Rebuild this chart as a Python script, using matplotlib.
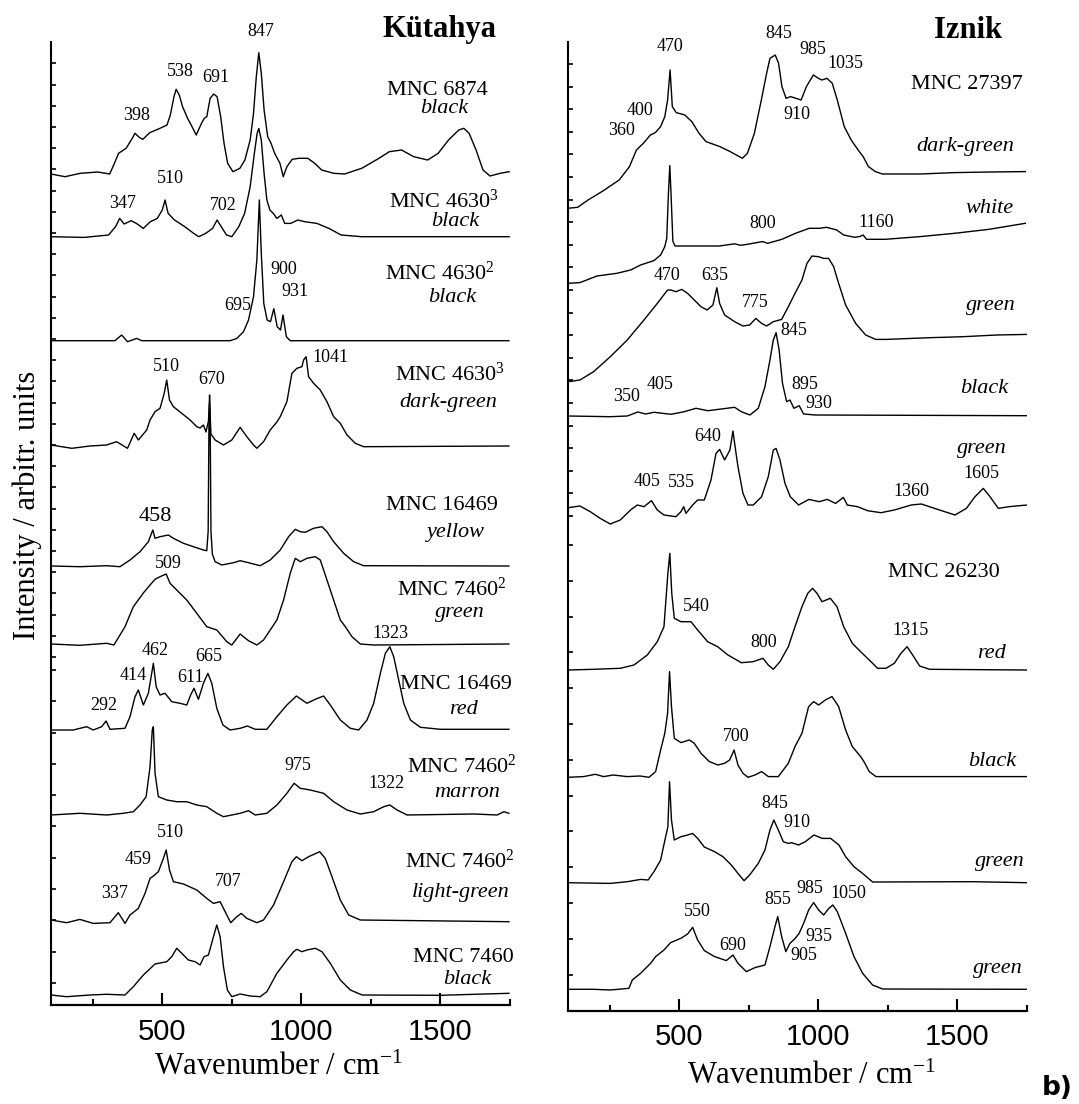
import matplotlib
matplotlib.use("Agg")
import matplotlib.pyplot as plt
import numpy as np

plt.rcParams['font.family'] = ['Liberation Serif', 'DejaVu Serif']
plt.rcParams['mathtext.fontset'] = 'custom'
plt.rcParams['mathtext.rm'] = 'Liberation Serif'
plt.rcParams['mathtext.it'] = 'Liberation Serif:italic'
plt.rcParams['mathtext.bf'] = 'Liberation Serif:bold'

# ---------------- Kütahya spectra (wavenumber cm-1, intensity arb.) ----------------
kut1_wn = [100,150,206,268,311,328,343,370,390,402,417,430,455,492,517,529,542,550,561,573,591,610,622,641,651,660,672,685,697,710,722,735,754,779,797,816,828,838,847,856,866,879,891,904,923,935,948,967,992,1023,1048,1073,1116,1155,1217,1279,1316,1360,1404,1454,1492,1529,1566,1584,1603,1628,1653,1678,1715,1747]
kut1_int = [0,-2.7,0.7,2,0,10.7,20.7,25.7,34.7,40.7,36.7,34.7,41.3,45.7,49,59,77.3,84.7,79,67.3,55.7,45.7,39,50.7,55.7,57.3,75.7,80,77.3,57.3,30.7,10.7,2.3,5.7,14,34,60.7,97.3,121.3,100.7,64,37.3,30.7,20.7,10.7,-2.7,7.3,14.7,15.7,15.7,10.7,4,0.7,0,5.7,15.7,22.3,24,17.3,14,20.7,34,44,45.7,40.7,24,4,-2,0.7,2.3]

kut2_wn = [100,220,307,332,347,363,388,407,432,457,482,500,510,521,544,581,613,631,656,681,697,712,731,750,775,796,816,831,841,847,856,866,876,887,899,912,928,940,962,987,1012,1056,1099,1143,1217,1747]
kut2_int = [0,-0.7,1.7,10,18.3,12.7,16,13.3,8.3,15,18.3,26.7,36.7,23.3,16.7,10,3.3,0,3.3,8.3,16.7,10,1.7,0,10,23.3,50,83.3,103.3,108.3,96.7,63.3,36.7,26.7,23.3,18.3,21.7,13.3,13.3,16.7,15,13.3,8.3,1.7,0,0]

kut3_wn = [100,330,354,375,408,426,744,768,792,810,828,840,849,856,865,877,889,901,913,925,934,946,960,1746]
kut3_int = [0,0,5.7,-1,2.3,0,0,2.3,9,20.7,44,80.7,140.7,87,37,20.7,19,32,14,10.7,25.7,4,0,0]

kut4_wn = [100,175,240,300,336,375,399,414,444,456,474,492,507,516,526,540,570,600,624,636,648,657,666,670,675,690,720,750,780,804,828,840,864,888,912,924,948,966,984,1002,1008,1017,1026,1044,1068,1092,1116,1140,1164,1194,1224,1746]
kut4_int = [1,-2.3,0,1,4.3,-2.3,12.7,6,16,26,34.3,37.7,52.7,66,46,39.3,32.7,26,19.3,18,21,14,25,45,12,6,1,6,18.7,9.3,1,-2.3,4.3,16,24,29.3,44.3,72.7,77.7,79.3,86,89.3,69.3,62.7,56,44.3,29.3,22.7,11,2.7,-0.7,0]

kut5_wn = [100,204,300,348,384,420,450,466,474,492,522,540,576,612,648,660,665,668,670,672,675,680,690,714,756,780,810,852,888,924,954,978,996,1014,1044,1074,1092,1116,1152,1188,1224,1746]
kut5_int = [0,-0.7,0.3,-0.7,6,14.3,24.3,36,27.7,29.3,31,27.7,22.7,19.3,16,15.3,35,150,171,150,35,12,4.3,1,3.3,5.3,3.3,0.3,6,16,29.3,36.7,34.3,33.7,37.7,39.3,34.3,24.3,12.7,4.3,0.3,0]

kut6_wn = [100,204,300,326,348,366,396,432,456,474,492,514,528,552,588,624,660,696,732,750,780,810,840,864,888,912,936,960,978,996,1020,1050,1068,1092,1116,1140,1158,1182,1212,1260,1746]
kut6_int = [0,-1.3,0.7,-1,9,17.3,37.3,51,59,64.7,67.3,70,60.7,54,44,30.7,17.3,14,2.3,-1,10,3.3,-1,4,14,24,44,70.7,85.7,82.3,85.7,87.3,84,64,44,24,17.3,7.3,0,-1,0]

kut7_wn = [100,180,228,252,282,298,312,366,384,402,414,432,450,462,468,478,492,510,534,564,588,602,614,630,648,664,678,696,718,744,780,806,834,876,912,948,982,1020,1050,1080,1104,1140,1176,1206,1236,1260,1284,1302,1318,1332,1350,1368,1392,1428,1500,1746]
kut7_int = [0,0,3.3,0,3.3,9,0.7,1.7,13.3,33.3,40,25,36.7,56.7,66.7,43.3,35,36.7,28.3,26.7,25,35,41.7,30.7,46.7,56.7,46.7,21.7,5,0,1.7,4,0.7,0.7,13.3,25,34,26.7,30.7,34,25,10,1.7,0,10,26.7,56.7,76.7,83.3,73.3,50,26.7,10,2.7,0.7,0.7]

kut8_wn = [100,204,300,360,396,420,442,456,464,468,474,486,516,552,588,624,660,696,720,780,810,834,876,912,948,974,996,1032,1080,1116,1164,1212,1260,1296,1318,1344,1380,1620,1704,1728,1746]
kut8_int = [0,1.7,0,1.7,3.3,10,18.3,48.3,85,88.3,41.7,18.3,15,13.3,13.3,10,8.3,1.7,-1.7,1.7,4.3,0,1.7,10,21.7,31.7,26.7,25,21.7,13.3,5,1,3.3,8.3,10,5,0,1,0,3.3,1.7]

kut9_wn = [100,156,204,252,312,342,366,384,414,438,456,468,486,504,514,526,540,576,624,660,684,708,726,746,768,784,804,840,864,900,936,966,982,1002,1026,1066,1086,1110,1140,1170,1212,1746]
kut9_int = [0.7,-2,1.3,-2.7,-2,8,-2.7,5.7,12.3,27.3,42.3,44.7,49,62.3,70.7,50.7,39,36.7,30.7,22.3,17.3,19,9,-2,4,7.3,2.3,-2,0.7,15.7,39,59,64,60,64,69,62.3,44,20.7,5.7,0.7,-1]

kut10_wn = [100,156,240,300,366,396,432,474,516,534,552,570,594,618,636,650,666,684,696,708,720,734,750,780,816,852,876,912,948,972,984,1002,1020,1050,1074,1104,1140,1176,1218,1500,1746]
kut10_int = [0,-1.7,0,0.7,0,8.3,20,31,33.3,38.3,46.7,41.7,35,33.3,30,38.3,40,58.3,70,58.3,28.3,5,-1.7,1,-1,-1.7,3.3,21.7,35,43.3,45.7,43.3,45,46.7,43.3,31.7,15,5,0,-0.3,1.7]

# ---------------- Iznik spectra ----------------
izn1_wn = [100,135,172,222,284,321,346,371,396,414,433,448,458,467,475,489,520,545,571,596,646,683,727,745,770,795,814,826,845,857,869,884,900,919,938,957,982,1000,1013,1031,1050,1068,1093,1118,1143,1161,1180,1205,1230,1366,1490,1614,1744]
izn1_int = [0,1,8.3,16.7,28.3,41.7,58.3,65,73.3,75.7,81.7,91.7,108.3,138.3,101.7,95.7,93.3,86.7,75,66.7,61.7,56.7,50,55,75,108.3,135,150,153.3,145,121.7,110,111.7,110,108.3,121.7,133.3,130,128.3,130,125,108.3,81.7,68.3,58.3,51.7,41.7,36.7,34.3,34.3,35.7,36.3,36.7]

izn2_wn = [100,143,192,204,276,325,361,409,433,448,455,461,466,471,477,485,495,560,644,699,720,745,799,818,869,918,967,1004,1029,1066,1091,1130,1148,1161,1173,1241,1366,1490,1614,1744]
izn2_int = [0,0.7,6,7.3,10,13.3,18.3,22.7,28.3,36.7,45,90,117.7,85,42,37.3,37.3,37.3,37.3,39.5,38,39,41.7,40,44,50,55,55,56,53.3,48.3,46,46.7,48.3,44,44,46.7,50,54,60]

izn3_wn = [100,143,192,252,313,373,421,458,470,488,509,530,554,578,600,621,635,645,663,699,729,753,775,796,814,838,868,892,916,941,959,977,1001,1019,1037,1055,1073,1098,1134,1170,1206,1243,1400,1520,1641,1750]
izn3_int = [0,1.7,10,25,41.7,61.7,78.3,91.7,91.7,90,92.3,88.3,81.7,75,71.7,76.7,94,78.3,66.7,60,55.7,56.7,63.3,58.3,55.7,60,62.3,75,88.3,101.7,118.3,125.7,125,123.3,123.3,115,98.3,76.7,58.3,46.7,42.3,42.3,44,45,46.7,47.3]

izn4_wn = [100,252,313,351,379,409,470,518,560,603,651,699,723,754,784,808,826,838,848,859,871,886,898,912,931,947,989,1750]
izn4_int = [0,-0.7,0,4,2,3.7,1.7,4.3,7.7,5.3,7,8.7,4.3,1,7.7,29.3,56,76,83.3,66,32.7,14.3,16,7.7,10.3,2,1,0.3]

izn5_wn = [100,143,180,216,252,288,325,349,373,400,421,445,488,506,516,524,548,566,590,614,632,645,663,682,693,699,711,729,747,766,796,820,838,848,862,880,899,929,966,1003,1032,1062,1090,1104,1141,1177,1225,1273,1334,1370,1418,1491,1532,1563,1593,1617,1647,1684,1750]
izn5_int = [0,1.7,-4,-10.7,-16.3,-12.3,-2.3,2.7,1,7,-2.3,-7.3,-9,-4,1,-5.7,2.7,7.7,7.7,27.7,54.3,58.3,47.7,57.7,76.7,64.3,41,14.3,2.7,2.7,11,31,57.7,59.3,47.7,24.3,11,2.7,8.3,6,8.3,4.3,10.3,2.7,1,-3,-5,-2.3,2.7,3.7,-0.7,-7.3,-0.7,11,19.3,11,-0.7,1,2.7]

izn6_wn = [100,192,288,337,385,421,445,459,466,473,482,506,542,566,602,638,675,723,765,801,820,838,862,892,916,941,962,979,995,1013,1043,1067,1091,1122,1152,1183,1213,1243,1273,1297,1319,1339,1364,1400,1750]
izn6_int = [0,0.7,1.7,5,15,28.3,43.3,96.7,116.7,76.7,51.7,48.3,48.3,40,28.3,23.3,15,7.3,8.3,11.7,5,0.7,8.3,23.3,43.3,63.3,76.7,81.7,76.7,68.3,71.7,63.3,43.3,26.7,18.3,10,1.7,1.7,6.7,16.7,23.3,15,4,0.7,0]

izn7_wn = [100,156,198,228,262,313,359,391,415,433,448,458,465,472,482,506,536,554,578,608,639,663,681,697,711,729,747,772,796,820,856,892,916,941,965,983,1001,1025,1049,1073,1098,1122,1152,1164,1183,1207,1750]
izn7_int = [0,0.7,3,0.7,2.3,0.7,1.3,0,5.7,27.3,44,64,105.7,70.7,39,34.7,37.3,34,24,15.7,12.3,14,17.3,27.3,12.3,4,0,2.3,5.7,0.7,0.7,14,30.7,44,70.7,75.7,72.3,77.3,80.7,70.7,47.3,30.7,20.7,15.7,5.7,0.7,0.7]

izn8_wn = [100,252,313,361,388,409,433,451,459,465,472,482,506,530,548,566,590,627,657,687,711,733,753,784,808,826,840,856,874,892,904,929,953,984,1014,1044,1074,1098,1128,1159,1195,1557,1750]
izn8_int = [0,-0.7,1,3.3,2.7,11,22.7,46,56,101,62.7,42.7,46,47.7,49.3,44.3,35.7,31,26,17.7,9.3,2,7.7,19.3,32.7,52.7,62.7,52.7,41,39.3,40,37.7,41,47.7,44.3,44.3,37.7,26,16,9.3,0.7,1,0]

izn9_wn = [100,192,252,319,331,361,397,415,445,469,506,530,548,566,590,627,669,693,711,741,772,808,826,844,854,868,883,898,917,931,947,965,983,1001,1019,1038,1052,1068,1098,1128,1159,1195,1231,1750]
izn9_int = [0,0,-0.7,1,9.3,16,26,32.7,39.3,46.7,51,55.3,62,49.3,38.7,32.7,28.7,34.3,26,17.7,21.7,24.3,42.7,62.7,72.7,52.7,37.7,46,51,56,66,79.3,86.7,79.3,74.3,81,84.3,77.7,56,32.7,16,4.3,0.3,0]

# sample names / colour descriptions
kut_samples = ["MNC 6874", "MNC 4630$^3$", "MNC 4630$^2$", "MNC 4630$^3$", "MNC 16469",
               "MNC 7460$^2$", "MNC 16469", "MNC 7460$^2$", "MNC 7460$^2$", "MNC 7460"]
kut_colours = ["black", "black", "black", "dark-green", "yellow", "green", "red",
               "marron", "light-green", "black"]
izn_samples = ["MNC 27397", "MNC 26230"]
izn_colours = ["dark-green", "white", "green", "black", "green", "red", "black",
               "green", "green"]
x_ticks = [500, 1000, 1500]

# ---------------- layout (stack offsets, label placement) ----------------
kut_offsets = [831, 768.3, 664.3, 559, 439, 361, 275, 190, 84.3, 10]
izn_offsets = [802.7, 727.7, 629.3, 595, 503.3, 341, 233.7, 128.3, 21.7]

# sample-name positions: (x, cap-centre y); drawn on the text baseline
kut_sample_pos = [(1488, 917.7), (1513, 805), (1498, 733), (1534, 632), (1507, 502),
                  (1542, 417), (1556, 323.3), (1578, 240), (1570, 145), (1581, 50)]
kut_colour_pos = [(1513, 896.7), (1552, 783.3), (1542, 707), (1527, 603), (1554, 473),
                  (1570, 392), (1581, 296), (1596, 212.3), (1572, 113), (1596, 25)]
izn_sample_pos = [(1534, 929.3), (1452, 441)]
izn_colour_pos = [(1527, 864.3), (1617, 802.7), (1621, 706), (1596, 622.7), (1588, 562.7),
                  (1624, 357.7), (1624, 249.3), (1653, 149.3), (1646, 42.7)]

kut_peak_labels = [("847", 855, 973.3), ("538", 566, 933.3), ("691", 693, 927.3), ("398", 409, 890),
                   ("510", 528, 826.7), ("347", 359, 801), ("702", 718, 799),
                   ("900", 938, 735), ("931", 977, 713.3), ("695", 772, 699),
                   ("1041", 1103, 647), ("510", 513, 638.3), ("670", 678, 625),
                   ("509", 521, 442),
                   ("1323", 1319, 372), ("462", 474, 354.3), ("665", 668, 348.3), ("414", 395, 330),
                   ("611", 600, 327.7), ("292", 291, 300),
                   ("975", 988, 239), ("1322", 1307, 221),
                   ("510", 528, 172.3), ("459", 413, 145), ("337", 330, 112), ("707", 736, 123.3)]
izn_peak_labels = [("470", 466, 965), ("845", 858, 977.7), ("985", 981, 962), ("1035", 1099, 947.7),
                   ("400", 359, 901), ("910", 922, 897), ("360", 294, 880.3),
                   ("800", 801, 787.7), ("1160", 1206, 788.3),
                   ("470", 455, 736), ("635", 628, 736), ("775", 772, 708.3),
                   ("845", 910, 680.3), ("405", 431, 627), ("350", 309, 614.3), ("895", 952, 627),
                   ("930", 1000, 607.7),
                   ("640", 603, 575), ("1605", 1587, 537.7), ("405", 383, 529.3), ("535", 509, 528.3),
                   ("1360", 1336, 519.3),
                   ("540", 563, 404.3), ("1315", 1332, 380.3), ("800", 805, 368.3),
                   ("700", 704, 274.3),
                   ("845", 842, 207.7), ("910", 922, 188.3),
                   ("985", 970, 122.7), ("1050", 1108, 117.7), ("855", 856, 111.7), ("550", 565, 99.3),
                   ("935", 1003, 74.3), ("690", 692, 66), ("905", 948, 55)]

kut_wn = [kut1_wn, kut2_wn, kut3_wn, kut4_wn, kut5_wn, kut6_wn, kut7_wn, kut8_wn, kut9_wn, kut10_wn]
kut_int = [kut1_int, kut2_int, kut3_int, kut4_int, kut5_int, kut6_int, kut7_int, kut8_int, kut9_int, kut10_int]
izn_wn = [izn1_wn, izn2_wn, izn3_wn, izn4_wn, izn5_wn, izn6_wn, izn7_wn, izn8_wn, izn9_wn]
izn_int = [izn1_int, izn2_int, izn3_int, izn4_int, izn5_int, izn6_int, izn7_int, izn8_int, izn9_int]

W, H = 1079, 1104
fig = plt.figure(figsize=(W / 100, H / 100), dpi=100)


def px_axes(x0, y0, x1, y1):
    return fig.add_axes([x0 / W, 1 - y1 / H, (x1 - x0) / W, (y1 - y0) / H])


axL = px_axes(51, 42, 510, 1005)
axR = px_axes(568, 42, 1027, 1011)
axL.set_ylim(0, 963)
axR.set_ylim(0, 969)

for ax, wns, ints, offs in ((axL, kut_wn, kut_int, kut_offsets), (axR, izn_wn, izn_int, izn_offsets)):
    for wn, it, off in zip(wns, ints, offs):
        ax.plot(wn, np.asarray(it) + off, color='black', lw=1.0)

# y tick positions (pixel rows of the stacked-layer ticks)
left_ticks_px = list(np.arange(63.3, 660, 21.2)) + list(np.arange(670, 1000, 31.3))
right_ticks_px = list(np.arange(64, 520, 22.6)) + list(np.arange(545, 1000, 35.8))
axL.set_yticks([1005 - p for p in left_ticks_px])
axR.set_yticks([1011 - p for p in right_ticks_px])

for ax, pad in ((axL, 9.5), (axR, 8.5)):
    ax.set_xlim(100, 1750)
    ax.spines['top'].set_visible(False)
    ax.spines['right'].set_visible(False)
    ax.spines['left'].set_linewidth(1.5)
    ax.spines['bottom'].set_linewidth(1.6)
    ax.set_xticks(x_ticks)
    ax.set_xticks([250, 750, 1250, 1750], minor=True)
    ax.tick_params(axis='x', which='major', direction='in', length=9, width=1.5,
                   labelsize=21, pad=pad)
    ax.tick_params(axis='x', which='minor', direction='in', length=4.5, width=1.5)
    ax.tick_params(axis='y', which='major', direction='in', length=3.5, width=1.2,
                   labelleft=False)
    for lbl in ax.get_xticklabels():
        lbl.set_fontfamily('Liberation Sans')
    ax.patch.set_alpha(0)

NAME_FS = 16
cap_half = 0.33 * NAME_FS * 100 / 72  # half cap height in pixels (= data units)

for ax, names, npos, cols, cpos, peaks in (
        (axL, kut_samples, kut_sample_pos, kut_colours, kut_colour_pos, kut_peak_labels),
        (axR, izn_samples, izn_sample_pos, izn_colours, izn_colour_pos, izn_peak_labels)):
    for t, (x, y) in zip(names, npos):
        ax.text(x, y - cap_half, t, fontsize=NAME_FS, ha='center', va='baseline')
    for t, (x, y) in zip(cols, cpos):
        ax.text(x, y, t, fontsize=NAME_FS, ha='center', va='center', style='italic')
    for t, x, y in peaks:
        ax.text(x, y, t, fontsize=13, ha='center', va='center')

axL.text(474, 488.3, "458", fontsize=16, ha='center', va='center')
axL.text(1498, 975, "Kütahya", fontsize=22, fontweight='bold', ha='center', va='center')
axR.text(1538, 981, "Iznik", fontsize=22, fontweight='bold', ha='center', va='center')

fig.text(278 / W, 1 - 1067 / H, "Wavenumber / cm$^{-1}$", fontsize=22, ha='center', va='center')
fig.text(811 / W, 1 - 1076 / H, "Wavenumber / cm$^{-1}$", fontsize=22, ha='center', va='center')
fig.text(27 / W, 1 - 505 / H, "Intensity / arbitr. units", fontsize=22, rotation=90,
         ha='center', va='center')
fig.text(1057 / W, 1 - 1088 / H, "b)", fontsize=19, fontweight='bold', family='DejaVu Sans',
         ha='center', va='center')

fig.savefig("out.png", dpi=100)
